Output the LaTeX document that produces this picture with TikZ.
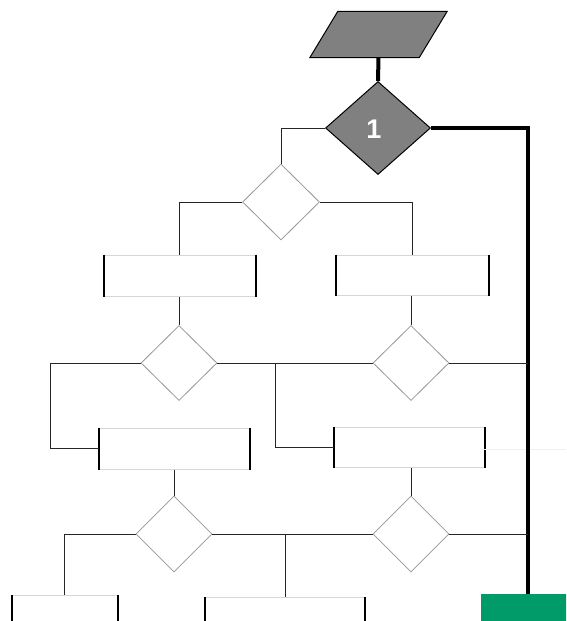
\documentclass[tikz,border=0pt]{standalone}
\usepackage{fontspec}
\setmainfont{Liberation Sans}
\usetikzlibrary{shapes.geometric}
\definecolor{fillgray}{RGB}{128,128,128}
\definecolor{endgreen}{RGB}{0,155,104}
\definecolor{edgegray}{RGB}{150,150,150}
\definecolor{boxgray}{RGB}{215,215,215}
\tikzset{
  thickline/.style={line width=4pt, black},
  thinline/.style={line width=1pt, black!85},
  decision/.style={diamond, draw=edgegray, line width=0.8pt, fill=white, inner sep=0pt, minimum width=76pt, minimum height=76pt},
  maindecision/.style={diamond, draw=black, line width=1pt, fill=fillgray, inner sep=0pt},
  procbox/.style={rectangle, draw=boxgray, line width=1pt, fill=white, inner sep=0pt, minimum height=41pt},
  boxside/.style={line width=2pt, black},
  iobox/.style={draw=black, line width=1pt, fill=fillgray},
}
\begin{document}
\begin{tikzpicture}[x=1pt,y=-1pt]
\useasboundingbox (0,0) rectangle (566,621);
\clip (0,0) rectangle (566,621);
% nodes
\node[rectangle, inner sep=0pt, minimum width=109pt, minimum height=46pt] (start) at (378.5,34.5) {};
\draw[iobox] ([xshift=14pt]start.north west) -- ([xshift=14pt]start.north east) -- ([xshift=-14pt]start.south east) -- ([xshift=-14pt]start.south west) -- cycle;
\node[maindecision, minimum width=105pt, minimum height=93pt] (d1) at (378,128) {};
\node[text=white, font=\bfseries\fontsize{27}{27}\selectfont, inner sep=0pt] (one) at (374,129.5) {1};
\node[decision, minimum height=76pt, minimum width=77pt] (d2) at (281,202) {};
\node[procbox, minimum width=151pt] (ba) at (179.5,275.5) {};
\node[procbox, minimum width=152pt, minimum height=40pt] (bb) at (412,275) {};
\node[decision, minimum height=75pt] (d3) at (179,363) {};
\node[decision, minimum height=75pt] (d4) at (411,363) {};
\node[procbox, minimum width=150pt] (bc) at (174,448.5) {};
\node[procbox, minimum width=150pt, minimum height=40pt] (bd) at (409.5,447) {};
\node[decision] (d5) at (174,534) {};
\node[decision] (d6) at (411,534) {};
\node[procbox, minimum width=105pt] (be) at (64.5,615.5) {};
\node[procbox, minimum width=159pt] (bf) at (284.5,617.5) {};
\node[rectangle, fill=endgreen, minimum width=100pt, minimum height=41pt, inner sep=0pt] (finish) at (531,614.5) {};
% box sides
\foreach \b in {ba,bb,bc,bd,be,bf}{
  \draw[boxside] (\b.north west) -- (\b.south west);
  \draw[boxside] (\b.north east) -- (\b.south east);
}
% coordinates
\coordinate (rail) at (528,128);
\coordinate (j3) at (275,363);
\coordinate (j5) at (285,534);
\coordinate (r4) at (528,363);
\coordinate (r6) at (528,534);
\coordinate (l3) at (50,363);
\coordinate (fa) at (482,449);
\coordinate (fb) at (566,449);
% faint line
\draw[line width=0.8pt, black!6] (fa) -- (fb);
% connectors
\draw[thickline] (start.south) -- (d1.north);
\draw[thickline] (d1.east) -- (rail) -- (finish.north -| rail);
\draw[thinline] (d1.west) -| (d2.north);
\draw[thinline] (d2.west) -| (ba.north);
\draw[thinline] (d2.east) -| (bb.north);
\draw[thinline] (ba.south -| d3.north) -- (d3.north);
\draw[thinline] (bb.south -| d4.north) -- (d4.north);
\draw[thinline] (d3.west) -- (l3) |- (bc.west);
\draw[thinline] (d3.east) -- (d4.west);
\draw[thinline] (j3) |- (bd.west);
\draw[thinline] (d4.east) -- (r4);
\draw[thinline] (bc.south) -- (d5.north);
\draw[thinline] (bd.south -| d6.north) -- (d6.north);
\draw[thinline] (d5.west) -| (be.north);
\draw[thinline] (d5.east) -- (d6.west);
\draw[thinline] (j5) -- (bf.north -| j5);
\draw[thinline] (d6.east) -- (r6);
\end{tikzpicture}
\end{document}
